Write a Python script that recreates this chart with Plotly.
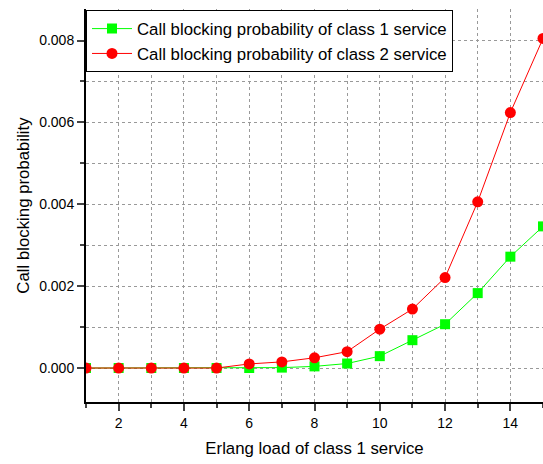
import plotly.graph_objects as go

load = [1, 2, 3, 4, 5, 6, 7, 8, 9, 10, 11, 12, 13, 14, 15]
class1 = [0, 0, 0, 0, 0, 0.0, 0.00001, 0.00004, 0.00011, 0.00029, 0.00068, 0.00107, 0.00183, 0.00272, 0.00346]
class2 = [0, 0, 0, 0, 0, 0.0001, 0.00015, 0.00025, 0.0004, 0.00095, 0.00144, 0.00221, 0.00406, 0.00624, 0.00805]
names = ["Call blocking probability of class 1 service", "Call blocking probability of class 2 service"]

fig = go.Figure()
fig.add_trace(go.Scatter(x=load, y=class1, mode="lines+markers", name=names[0],
                         line=dict(color="#00ff00", width=1),
                         marker=dict(symbol="square", size=10, color="#00ff00")))
fig.add_trace(go.Scatter(x=load, y=class2, mode="lines+markers", name=names[1],
                         line=dict(color="#ff0000", width=1),
                         marker=dict(symbol="circle", size=11, color="#ff0000")))

fig.update_layout(
    width=543, height=464,
    margin=dict(l=86, r=0, t=9, b=62, autoexpand=False),
    paper_bgcolor="white", plot_bgcolor="white",
    font=dict(family="Liberation Sans, Arial", color="black", size=14),
    legend=dict(x=0, y=0.997, xanchor="left", yanchor="top", bgcolor="white",
                bordercolor="black", borderwidth=1, font=dict(size=16.8),
                tracegroupgap=0, itemwidth=40),
    showlegend=True,
)
fig.update_xaxes(
    range=[1, 15], tick0=0, dtick=2, ticks="outside", ticklen=7, tickwidth=1.5,
    showline=True, linecolor="black", linewidth=2, zeroline=False, automargin=False,
    showgrid=True, gridcolor="#999999", griddash="dot", gridwidth=1,
    minor=dict(dtick=1, tick0=0, ticks="outside", ticklen=4, showgrid=True,
               gridcolor="#999999", griddash="dot"),
    title=dict(text="Erlang load of class 1 service", font=dict(size=16.8), standoff=12),
)
fig.update_yaxes(
    range=[-0.00083, 0.00877], tick0=0, dtick=0.002, tickformat=".3f",
    ticks="outside", ticklen=7, tickwidth=1.5, automargin=False,
    showline=True, linecolor="black", linewidth=2, zeroline=False,
    showgrid=True, gridcolor="#999999", griddash="dot", gridwidth=1,
    minor=dict(dtick=0.001, tick0=0, ticks="outside", ticklen=4, showgrid=True,
               gridcolor="#999999", griddash="dot"),
    title=dict(text="Call blocking probability", font=dict(size=16.8), standoff=5),
)

# remove the default page margin so the figure fills the window exactly
fig.write_html("out.html", config={"displayModeBar": False},
               post_script="document.body.style.margin='0';document.body.style.overflow='hidden';")
